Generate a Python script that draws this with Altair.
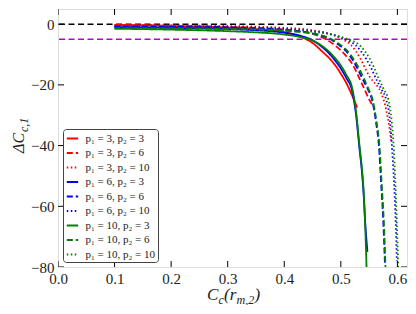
import altair as alt
import pandas as pd

series_labels = [
    "p₁ = 3, p₂ = 3", "p₁ = 3, p₂ = 6", "p₁ = 3, p₂ = 10",
    "p₁ = 6, p₂ = 3", "p₁ = 6, p₂ = 6", "p₁ = 6, p₂ = 10",
    "p₁ = 10, p₂ = 3", "p₁ = 10, p₂ = 6", "p₁ = 10, p₂ = 10",
]
series_colors = ["red"] * 3 + ["blue"] * 3 + ["green"] * 3
series_dashes = [[1, 0], [6, 3], [1.5, 2.5]] * 3

# p1=3
r3_x = [0.10, 0.15, 0.20, 0.25, 0.30, 0.35, 0.40, 0.43, 0.45, 0.47, 0.48, 0.49, 0.50, 0.51, 0.52, 0.529]
r3_y = [-0.3, -0.4, -0.6, -0.8, -1.1, -1.6, -2.6, -4.2, -6.2, -9.5, -11.3, -13.5, -16.3, -19.5, -23.5, -27.5]
r6_x = [0.10, 0.20, 0.30, 0.35, 0.40, 0.45, 0.47, 0.489, 0.50, 0.51, 0.52, 0.533, 0.542, 0.55, 0.557]
r6_y = [-0.3, -0.5, -0.9, -1.2, -1.8, -3.2, -4.6, -6.9, -8.6, -10.6, -13.0, -17.9, -21.5, -24.8, -27.0]
r10_x = [0.10, 0.20, 0.30, 0.40, 0.45, 0.49, 0.505, 0.518, 0.527, 0.535, 0.543, 0.55, 0.558, 0.565, 0.571, 0.58, 0.585, 0.589]
r10_y = [-0.3, -0.4, -0.6, -1.2, -2.0, -3.8, -5.2, -6.9, -9.0, -11.5, -14.5, -17.0, -19.0, -20.5, -22.5, -28.0, -33.0, -38.5]
# p1=6
b3_x = [0.10, 0.20, 0.30, 0.35, 0.40, 0.43, 0.45, 0.47, 0.48, 0.49, 0.50, 0.51, 0.52, 0.527, 0.533, 0.537, 0.540, 0.543, 0.547]
b3_y = [-1.0, -1.2, -1.6, -2.0, -2.8, -3.9, -5.3, -8.0, -9.8, -12.0, -14.6, -17.8, -22.0, -30.0, -41.0, -48.0, -55.0, -65.0, -75.0]
b6_x = [0.10, 0.20, 0.30, 0.35, 0.40, 0.45, 0.48, 0.497, 0.51, 0.52, 0.53, 0.538, 0.548, 0.555, 0.562, 0.568, 0.571, 0.575, 0.578]
b6_y = [-0.8, -0.9, -1.1, -1.4, -1.9, -3.0, -4.8, -6.9, -9.0, -11.5, -14.8, -17.9, -21.5, -24.8, -32.0, -41.8, -51.6, -64.7, -79.0]
b10_x = [0.10, 0.20, 0.30, 0.40, 0.45, 0.48, 0.50, 0.515, 0.526, 0.535, 0.545, 0.555, 0.562, 0.572, 0.58, 0.587, 0.591, 0.594, 0.597, 0.599]
b10_y = [-0.8, -0.85, -1.0, -1.5, -2.3, -3.2, -4.3, -5.6, -6.9, -8.8, -11.5, -15.0, -17.9, -21.5, -24.8, -32.0, -42.0, -51.6, -65.0, -78.0]
# p1=10
g3_x = [0.10, 0.20, 0.30, 0.35, 0.40, 0.43, 0.45, 0.47, 0.48, 0.49, 0.50, 0.51, 0.52, 0.527, 0.533, 0.537, 0.540, 0.543, 0.5455]
g3_y = [-1.5, -1.8, -2.3, -2.7, -3.4, -4.3, -5.4, -7.6, -9.2, -11.2, -13.6, -16.8, -21.0, -29.0, -40.0, -47.0, -54.0, -66.0, -80.0]
g6_x = [0.10, 0.20, 0.30, 0.35, 0.40, 0.45, 0.48, 0.50, 0.51, 0.52, 0.53, 0.54, 0.548, 0.556, 0.563, 0.569, 0.572, 0.576, 0.579]
g6_y = [-1.3, -1.4, -1.6, -1.8, -2.2, -3.1, -4.6, -6.9, -8.5, -10.8, -13.8, -17.5, -21.0, -24.8, -32.0, -42.0, -52.0, -65.0, -80.0]
g10_x = [0.10, 0.20, 0.30, 0.40, 0.45, 0.48, 0.50, 0.518, 0.533, 0.542, 0.55, 0.558, 0.566, 0.576, 0.584, 0.59, 0.594, 0.596, 0.599, 0.6015]
g10_y = [-1.3, -1.35, -1.5, -1.9, -2.5, -3.3, -4.2, -5.3, -6.9, -8.8, -11.0, -14.0, -17.5, -21.5, -24.8, -32.0, -42.0, -50.0, -65.0, -80.0]

series_x = [r3_x, r6_x, r10_x, b3_x, b6_x, b10_x, g3_x, g6_x, g10_x]
series_y = [r3_y, r6_y, r10_y, b3_y, b6_y, b10_y, g3_y, g6_y, g10_y]

x_ticks = [0.0, 0.1, 0.2, 0.3, 0.4, 0.5, 0.6]
y_ticks = [0, -20, -40, -60, -80]
x_domain = [0.0, 0.617]
y_domain = [-80, 5]
hline_zero = [0]
hline_limit = [-5]

rows = []
for lab, xs, ys in zip(series_labels, series_x, series_y):
    for i, (xv, yv) in enumerate(zip(xs, ys)):
        rows.append({"series": lab, "x": xv, "y": yv, "i": i})
df = pd.DataFrame(rows)

W, H = 349, 258
FONT = "Liberation Serif"
xscale = alt.Scale(domain=x_domain, nice=False, zero=False)
yscale = alt.Scale(domain=y_domain, nice=False, zero=False)
xaxis = alt.Axis(values=x_ticks, format=".1f", title=None, ticks=False, domain=False, grid=False,
                 labelPadding=4, labelFont=FONT, labelFontSize=15, labelColor="#222", labelFlush=False)
yaxis = alt.Axis(values=y_ticks, format="d", title=None, ticks=False, domain=False, grid=False,
                 labelPadding=4, labelFont=FONT, labelFontSize=15, labelColor="#222", labelFlush=False)

legend = alt.Legend(
    title=None, orient="none", legendX=5, legendY=120,
    symbolType="stroke", symbolSize=130, symbolStrokeWidth=1.8,
    labelFont=FONT, labelFontSize=11, labelColor="#222", labelOffset=6,
    rowPadding=2.5, padding=2.5, strokeColor="#444", fillColor="white",
    cornerRadius=3,
)

lines = alt.Chart(df).mark_line(strokeWidth=1.8, clip=True, interpolate="monotone").encode(
    x=alt.X("x:Q", scale=xscale, axis=xaxis),
    y=alt.Y("y:Q", scale=yscale, axis=yaxis),
    color=alt.Color("series:N", scale=alt.Scale(domain=series_labels, range=series_colors), legend=legend),
    strokeDash=alt.StrokeDash("series:N", scale=alt.Scale(domain=series_labels, range=series_dashes), legend=legend),
    order="i:Q",
)

zero_line = alt.Chart(pd.DataFrame({"y": hline_zero})).mark_rule(
    color="black", strokeDash=[6, 3.5], strokeWidth=1.5).encode(y=alt.Y("y:Q", scale=yscale, axis=yaxis))
limit_line = alt.Chart(pd.DataFrame({"y": hline_limit})).mark_rule(
    color="#bf00bf", strokeDash=[6, 3.5], strokeWidth=1.5).encode(y=alt.Y("y:Q", scale=yscale, axis=yaxis))

xt = pd.DataFrame({"x": x_ticks})
yt = pd.DataFrame({"y": y_ticks})
tick_style = dict(size=12, thickness=1, color="black", clip=True, opacity=1)
ticks_bottom = alt.Chart(xt).mark_tick(orient="vertical", **tick_style).encode(
    x=alt.X("x:Q", scale=xscale, axis=xaxis), y=alt.value(H))
ticks_top = alt.Chart(xt).mark_tick(orient="vertical", **tick_style).encode(
    x=alt.X("x:Q", scale=xscale, axis=xaxis), y=alt.value(0))
ticks_left = alt.Chart(yt).mark_tick(orient="horizontal", **tick_style).encode(
    y=alt.Y("y:Q", scale=yscale, axis=yaxis), x=alt.value(0))
ticks_right = alt.Chart(yt).mark_tick(orient="horizontal", **tick_style).encode(
    y=alt.Y("y:Q", scale=yscale, axis=yaxis), x=alt.value(W))


def label(text, x, y, size, angle=0):
    return alt.Chart(pd.DataFrame({"t": [text]})).mark_text(
        font=FONT, fontSize=size, fontStyle="italic", align="left", baseline="alphabetic",
        angle=angle, color="#222").encode(x=alt.value(x), y=alt.value(y), text="t:N")


titles = [
    label("C", 149, 291, 17),
    label("c", 160.5, 294.5, 12),
    label("(r", 166, 291, 17),
    label("m,2", 178.5, 294.5, 12),
    label(")", 196.5, 291, 17),
    label("ΔC", -34, 144, 16, angle=270),
    label("c,1", -30, 123, 12, angle=270),
]

chart = alt.layer(
    zero_line, limit_line, lines, ticks_bottom, ticks_top, ticks_left, ticks_right, *titles
).properties(
    width=W, height=H,
    autosize=alt.AutoSizeParams(type="none"),
    padding={"left": 50, "top": 1, "right": 1, "bottom": 38},
).configure_view(stroke="black", strokeWidth=1).configure(background="white")

chart.save("out.html", embed_options={"renderer": "svg", "actions": False})
